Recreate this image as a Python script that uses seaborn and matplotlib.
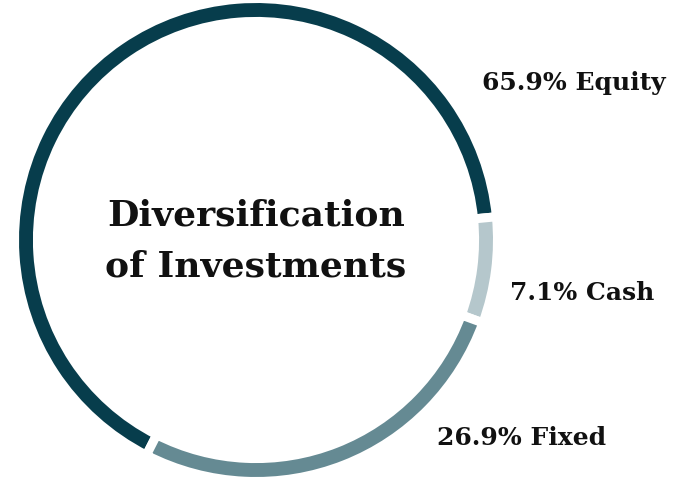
import matplotlib.pyplot as plt
import seaborn as sns

labels = ["Equity", "Cash", "Fixed"]
shares = [65.9, 7.1, 26.9]
colors = ["#073d4c", "#b5c7cc", "#658a93"]
title_lines = ["Diversification", "of Investments"]

sns.set_theme(style="white")
plt.rcParams['font.family'] = ['DejaVu Serif']

W, H = 680, 481
fig = plt.figure(figsize=(W / 100, H / 100), dpi=100)

# ring centre at (256, 241) px, axes 500 px square
cx, cy, half = 256, 241, 250
ax = fig.add_axes([(cx - half) / W, (H - cy - half) / H, 2 * half / W, 2 * half / H])

gap_pt = 6.5
ax.pie(shares, colors=colors, startangle=243, counterclock=False, radius=1.0,
       wedgeprops=dict(width=0.095, edgecolor="white", linewidth=gap_pt))
lim = half / 241.5
ax.set_xlim(-lim, lim)
ax.set_ylim(-lim, lim)
ax.set_aspect("equal")
ax.axis("off")

# centre title
fig.text(cx / W, 1 - 241 / H, "\n".join(title_lines), ha="center", va="center",
         fontsize=26, fontweight="bold", color="#111111", linespacing=1.6)

# slice labels
label_pos = [(482, 83), (510, 293), (437, 438)]
for (x, y), name, v in zip(label_pos, labels, shares):
    fig.text(x / W, 1 - y / H, f"{v}% {name}", ha="left", va="center",
             fontsize=18, fontweight="bold", color="#111111")

fig.savefig("out.png", dpi=100)
